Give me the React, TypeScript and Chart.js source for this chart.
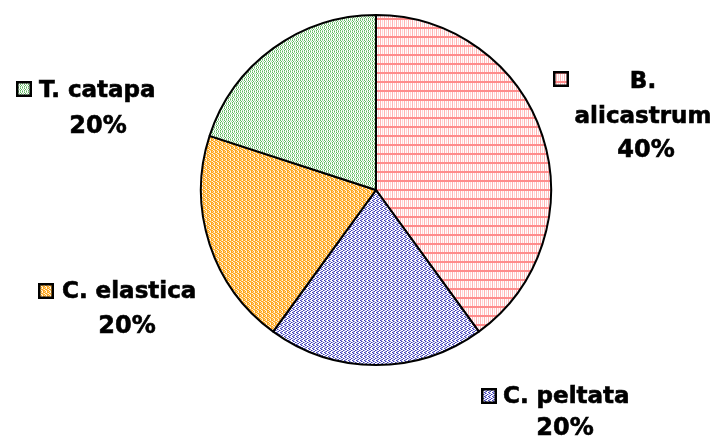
import React, { useEffect, useRef } from "react";
import { Chart, registerables } from "chart.js";

Chart.register(...registerables);

const categories = ["B. alicastrum", "C. peltata", "C. elastica", "T. catapa"];
const shares = [40, 20, 20, 20];
// text lines for each label (name wrapped where it does not fit)
const nameLines = [["B.", "alicastrum"], ["C. peltata"], ["C. elastica"], ["T. catapa"]];

const W = 723;
const H = 443;
const FONT = 'bold 23px "DejaVu Sans", Verdana, sans-serif';
const PCT_FONT = 'bold 24px "DejaVu Sans", Verdana, sans-serif';
const KEY = 16;

type Tile = { w: number; h: number; rows: string[]; palette: Record<string, string> };

const tiles: Tile[] = [
  {
    w: 4, h: 9,
    rows: ["AAAA", "AAAA", "bwcw", "bwcw", "bwcw", "bwcw", "bwcw", "bwcw", "bwcw"],
    palette: { A: "#ff8c8c", b: "#ffb3b3", c: "#ffd6d6", w: "#ffffff" },
  },
  {
    w: 4, h: 4,
    rows: ["DLww", "wDLw", "LwwD", "wLDw"],
    palette: { D: "#4040b0", L: "#9090e4", w: "#ffffff" },
  },
  {
    w: 4, h: 4,
    rows: ["OYwO", "wOOY", "OwYO", "YOwO"],
    palette: { O: "#ffa31a", Y: "#ffd27a", w: "#fff6e6" },
  },
  {
    w: 4, h: 4,
    rows: ["GwLw", "wGwL", "GwLw", "LwGw"],
    palette: { G: "#5fb85f", L: "#a8dba8", w: "#ffffff" },
  },
];

function makePattern(ctx: CanvasRenderingContext2D, t: Tile): CanvasPattern | string {
  const c = document.createElement("canvas");
  c.width = t.w;
  c.height = t.h;
  const g = c.getContext("2d");
  if (!g) return "#ccc";
  for (let y = 0; y < t.h; y++) {
    for (let x = 0; x < t.w; x++) {
      g.fillStyle = t.palette[t.rows[y][x]];
      g.fillRect(x, y, 1, 1);
    }
  }
  return ctx.createPattern(c, "repeat") || "#ccc";
}

// where each label block sits: legend key box, name lines, percentage line
const placements = [
  { kx: 553, ky: 71, align: "center", tx: 643, lines: [88, 123], px: 646, py: 157 },
  { kx: 481, ky: 388, align: "left", tx: 503, lines: [403], px: 565, py: 435 },
  { kx: 38, ky: 283, align: "left", tx: 62, lines: [298], px: 127, py: 333 },
  { kx: 16, ky: 81, align: "left", tx: 39, lines: [97], px: 98, py: 133 },
];

export default function App() {
  const ref = useRef<HTMLCanvasElement | null>(null);

  useEffect(() => {
    document.body.style.margin = "0";
    const canvas = ref.current;
    if (!canvas) return;
    const ctx = canvas.getContext("2d");
    if (!ctx) return;
    const patterns = tiles.map((t) => makePattern(ctx, t));
    const total = shares.reduce((a, b) => a + b, 0);

    const labelPlugin = {
      id: "pieLabels",
      afterDraw(chart: Chart) {
        const c = chart.ctx;
        const meta = chart.getDatasetMeta(0);
        c.save();
        c.textBaseline = "alphabetic";
        const heavyText = (s: string, x: number, y: number) => {
          c.fillText(s, x, y);
          c.strokeText(s, x, y);
        };
        meta.data.forEach((_, i) => {
          const p = placements[i];
          // legend key
          c.fillStyle = patterns[i] as any;
          c.fillRect(p.kx, p.ky, KEY, KEY);
          c.strokeStyle = "#000";
          c.lineWidth = 2.5;
          c.strokeRect(p.kx + 1.25, p.ky + 1.25, KEY - 2.5, KEY - 2.5);
          c.fillStyle = "#000";
          c.lineWidth = 0.6;
          c.font = FONT;
          c.textAlign = p.align as CanvasTextAlign;
          nameLines[i].forEach((ln, j) => heavyText(ln, p.tx, p.lines[j]));
          c.font = PCT_FONT;
          c.textAlign = "center";
          const pct = Math.round((shares[i] / total) * 100) + "%";
          heavyText(pct, p.px, p.py);
        });
        c.restore();
      },
    };

    const chart = new Chart(canvas, {
      type: "pie",
      data: {
        labels: categories,
        datasets: [
          {
            data: shares,
            backgroundColor: patterns as any,
            borderColor: "#000",
            borderWidth: 2,
            borderAlign: "center",
          },
        ],
      },
      options: {
        responsive: false,
        animation: false,
        layout: { padding: { left: 200, right: 171, top: 14, bottom: 77 } },
        plugins: { legend: { display: false }, tooltip: { enabled: false } },
      },
      plugins: [labelPlugin],
    });
    return () => chart.destroy();
  }, []);

  return (
    <div style={{ width: W, height: H, background: "#fff" }}>
      <canvas ref={ref} width={W} height={H} style={{ display: "block" }} />
    </div>
  );
}
